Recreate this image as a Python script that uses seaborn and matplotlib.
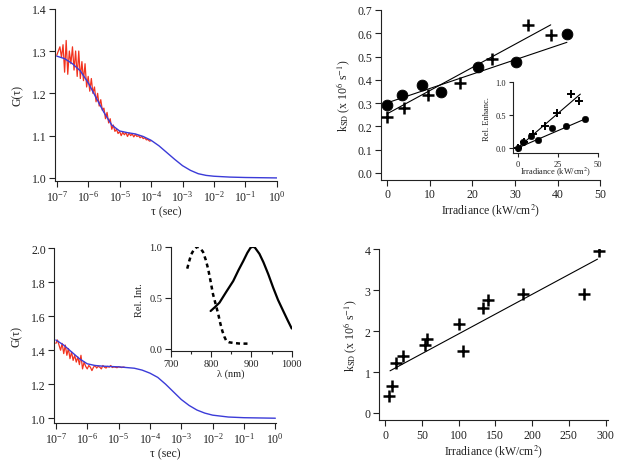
import numpy as np
import pandas as pd
import seaborn as sns
import matplotlib.pyplot as plt
import matplotlib.ticker as mt

# ---- top left: correlation curve (log10 tau, G) ----
fcs1_fit_logtau = [-7.0, -6.75, -6.5, -6.25, -6.0, -5.75, -5.5, -5.25, -5.0, -4.75,
                   -4.5, -4.25, -4.0, -3.75, -3.5, -3.25, -3.0, -2.75, -2.5, -2.25,
                   -2.0, -1.5, -1.0, 0.0]
fcs1_fit_g = [1.288, 1.282, 1.270, 1.253, 1.225, 1.190, 1.155, 1.125, 1.111, 1.107,
              1.104, 1.098, 1.089, 1.076, 1.060, 1.044, 1.029, 1.018, 1.010, 1.006,
              1.004, 1.002, 1.001, 1.000]
fcs1_data_logtau = list(np.round(np.arange(-7.0, -3.95, 0.05), 2))
fcs1_data_g = [1.29, 1.30, 1.31, 1.285, 1.315, 1.25, 1.325, 1.245, 1.30, 1.27,
               1.31, 1.255, 1.30, 1.24, 1.30, 1.235, 1.275, 1.23, 1.27, 1.215,
               1.24, 1.205, 1.235, 1.20, 1.215, 1.18, 1.20, 1.17, 1.185, 1.16,
               1.165, 1.14, 1.155, 1.13, 1.14, 1.115, 1.125, 1.11, 1.115, 1.105,
               1.11, 1.10, 1.108, 1.102, 1.107, 1.098, 1.106, 1.100, 1.104, 1.097,
               1.103, 1.098, 1.100, 1.095, 1.098, 1.093, 1.095, 1.090, 1.091, 1.087,
               1.088]

# ---- bottom left: correlation curve ----
fcs2_fit_logtau = [-7.0, -6.75, -6.5, -6.25, -6.0, -5.75, -5.5, -5.0, -4.5, -4.25,
                   -4.0, -3.75, -3.5, -3.25, -3.0, -2.75, -2.5, -2.25, -2.0, -1.5,
                   -1.0, 0.0]
fcs2_fit_g = [1.46, 1.43, 1.39, 1.35, 1.32, 1.31, 1.306, 1.302, 1.294, 1.283,
              1.265, 1.24, 1.20, 1.155, 1.11, 1.075, 1.048, 1.03, 1.018, 1.007,
              1.003, 1.000]
fcs2_data_logtau = list(np.round(np.arange(-7.0, -4.75, 0.05), 2))
fcs2_data_g = [1.44, 1.46, 1.43, 1.40, 1.44, 1.38, 1.43, 1.37, 1.41, 1.35,
               1.39, 1.34, 1.37, 1.33, 1.36, 1.315, 1.37, 1.29, 1.33, 1.305,
               1.29, 1.31, 1.30, 1.28, 1.30, 1.31, 1.295, 1.305, 1.30, 1.29,
               1.31, 1.30, 1.295, 1.305, 1.30, 1.31, 1.298, 1.302, 1.30, 1.297,
               1.303, 1.30, 1.298, 1.301, 1.299]

# ---- inset: spectra ----
abs_wl = [741, 746, 751, 758, 766, 773, 780, 787, 793, 799, 805, 812, 818, 823,
          828, 833, 838, 845, 855, 872, 896]
abs_int = [0.785, 0.86, 0.925, 0.975, 1.0, 0.985, 0.95, 0.87, 0.78, 0.66, 0.534,
           0.43, 0.339, 0.25, 0.176, 0.12, 0.078, 0.065, 0.059, 0.052, 0.052]
em_wl = [799, 810, 821, 838, 855, 868, 880, 890, 898, 904, 909, 920, 930, 942,
         954, 966, 979, 990, 1000]
em_int = [0.371, 0.41, 0.453, 0.56, 0.664, 0.77, 0.86, 0.94, 0.99, 1.0, 0.99,
          0.93, 0.847, 0.73, 0.6, 0.48, 0.371, 0.28, 0.2]

# ---- top right: k_SD vs irradiance ----
circ_irr = [0.0, 3.5, 8.3, 12.6, 21.4, 30.2, 42.2]
circ_k = [0.293, 0.336, 0.376, 0.347, 0.454, 0.476, 0.597]
cross_irr = [0.0, 4.0, 9.6, 17.1, 24.6, 33.1, 38.4]
cross_k = [0.24, 0.279, 0.333, 0.387, 0.49, 0.637, 0.594]
circ_fit_irr = [0.0, 42.2]
circ_fit_k = [0.301, 0.561]
cross_fit_irr = [0.0, 38.4]
cross_fit_k = [0.254, 0.636]

# inset: relative enhancement
circ_enh = [0.0, 0.09, 0.18, 0.12, 0.30, 0.33, 0.44]
cross_enh = [0.0, 0.09, 0.22, 0.34, 0.53, 0.82, 0.71]
circ_enh_fit_irr = [0.0, 42.7]
circ_enh_fit = [0.0, 0.45]
cross_enh_fit_irr = [0.0, 39.0]
cross_enh_fit = [0.0, 0.82]

# ---- bottom right ----
irr2 = [5.9, 9.1, 15, 24, 55, 57.6, 100.8, 106.7, 133, 139.8, 188, 270, 290.5]
k2 = [0.42, 0.66, 1.21, 1.38, 1.67, 1.80, 2.17, 1.52, 2.56, 2.76, 2.92, 2.90, 3.96]
fit2_irr = [6.8, 289]
fit2_k = [1.03, 3.76]

decades = [1e-7, 1e-6, 1e-5, 1e-4, 1e-3, 1e-2, 1e-1, 1e0]

sns.set_style("ticks")
plt.rcParams['font.family'] = ['Liberation Serif', 'DejaVu Serif']
plt.rcParams['mathtext.fontset'] = 'stix'
TXT = '#222222'
plt.rcParams['text.color'] = TXT
plt.rcParams['axes.labelcolor'] = TXT
plt.rcParams['xtick.color'] = TXT
plt.rcParams['ytick.color'] = TXT
plt.rcParams['axes.edgecolor'] = TXT

RED = '#f2331f'
BLUE = '#3b3bd8'

fig = plt.figure(figsize=(6.2, 4.64), dpi=100)


def igor(ax, fs=8.5):
    for s in ['top', 'right']:
        ax.spines[s].set_visible(False)
    for s in ['left', 'bottom']:
        ax.spines[s].set_linewidth(0.8)
    ax.tick_params(direction='out', length=4, width=0.8, labelsize=fs, pad=2)
    ax.set_facecolor('none')


def fcs_panel(rect, dlog, dg, flog, fg, ylim, yticks):
    ax = fig.add_axes(rect)
    d = pd.DataFrame({'tau': 10.0 ** np.array(dlog), 'g': dg})
    f = pd.DataFrame({'tau': 10.0 ** np.array(flog), 'g': fg})
    sns.lineplot(data=d, x='tau', y='g', ax=ax, color=RED, lw=0.9,
                 estimator=None, sort=False)
    sns.lineplot(data=f, x='tau', y='g', ax=ax, color=BLUE, lw=1.0,
                 estimator=None, sort=False)
    ax.set_xscale('log')
    ax.set_xlim(10 ** -7.05, 10 ** 0.01)
    ax.set_ylim(*ylim)
    ax.set_yticks(yticks)
    ax.yaxis.set_major_formatter(mt.FormatStrFormatter('%.1f'))
    ax.set_xticks(decades)
    ax.xaxis.set_major_formatter(mt.LogFormatterSciNotation())
    ax.xaxis.set_minor_locator(mt.NullLocator())
    ax.set_xlabel('τ (sec)', fontsize=8.5, labelpad=1)
    ax.set_ylabel('G(τ)', fontsize=8.5, labelpad=6)
    igor(ax)
    return ax


# top left
fcs_panel([0.089, 0.608, 0.358, 0.371], fcs1_data_logtau, fcs1_data_g,
          fcs1_fit_logtau, fcs1_fit_g, (0.993, 1.4), [1.0, 1.1, 1.2, 1.3, 1.4])

# bottom left
fcs_panel([0.0876, 0.087, 0.357, 0.376], fcs2_data_logtau, fcs2_data_g,
          fcs2_fit_logtau, fcs2_fit_g, (0.974, 2.0), [1.0, 1.2, 1.4, 1.6, 1.8, 2.0])

# spectra inset
ax = fig.add_axes([0.2753, 0.2414, 0.1952, 0.2248])
sns.lineplot(x=abs_wl, y=abs_int, ax=ax, color='black', lw=1.8,
             linestyle=(0, (1.6, 1.4)), estimator=None, sort=False)
sns.lineplot(x=em_wl, y=em_int, ax=ax, color='black', lw=1.6,
             estimator=None, sort=False)
ax.set_xlim(700, 1000)
ax.set_ylim(-0.02, 1.0)
ax.set_xticks([700, 800, 900, 1000])
ax.xaxis.set_minor_locator(mt.MultipleLocator(50))
ax.set_yticks([0.0, 0.5, 1.0])
ax.yaxis.set_major_formatter(mt.FormatStrFormatter('%.1f'))
ax.set_xlabel('λ (nm)', fontsize=7.5, labelpad=0)
ax.set_ylabel('Rel. Int.', fontsize=7.5, labelpad=4)
igor(ax, fs=7.5)
ax.tick_params(which='minor', direction='out', length=2.5, width=0.8)

# top right
ax = fig.add_axes([0.614, 0.61, 0.354, 0.3664])
sns.lineplot(x=circ_fit_irr, y=circ_fit_k, ax=ax, color='black', lw=0.8)
sns.lineplot(x=cross_fit_irr, y=cross_fit_k, ax=ax, color='black', lw=0.8)
sns.scatterplot(x=circ_irr, y=circ_k, ax=ax, color='black', marker='o', s=60,
                edgecolor='black', zorder=3)
sns.scatterplot(x=cross_irr, y=cross_k, ax=ax, color='black', marker='+', s=75,
                linewidth=1.8, zorder=3)
ax.set_xlim(-1.5, 50)
ax.set_ylim(-0.03, 0.7)
ax.set_xticks([0, 10, 20, 30, 40, 50])
ax.set_yticks(np.arange(0, 0.71, 0.1))
ax.yaxis.set_major_formatter(mt.FormatStrFormatter('%.1f'))
ax.set_xlabel('Irradiance (kW/cm$^2$)', fontsize=8.5, labelpad=1)
ax.set_ylabel('k$_{\\mathrm{SD}}$ (x 10$^{6}$ s$^{-1}$)', fontsize=8.5, labelpad=4)
igor(ax)

# relative enhancement inset
ax = fig.add_axes([0.827, 0.6675, 0.1376, 0.153])
sns.lineplot(x=circ_enh_fit_irr, y=circ_enh_fit, ax=ax, color='black', lw=0.8)
sns.lineplot(x=cross_enh_fit_irr, y=cross_enh_fit, ax=ax, color='black', lw=0.8)
sns.scatterplot(x=circ_irr, y=circ_enh, ax=ax, color='black', marker='o', s=22,
                edgecolor='black', zorder=3)
sns.scatterplot(x=cross_irr, y=cross_enh, ax=ax, color='black', marker='+', s=30,
                linewidth=1.4, zorder=3)
ax.set_xlim(-3, 50)
ax.set_ylim(-0.08, 1.0)
ax.set_xticks([0, 25, 50])
ax.set_yticks([0.0, 0.5, 1.0])
ax.yaxis.set_major_formatter(mt.FormatStrFormatter('%.1f'))
ax.set_xlabel('Irradiance (kW/cm$^2$)', fontsize=6, labelpad=-2)
ax.set_ylabel('Rel. Enhanc.', fontsize=6, labelpad=3)
igor(ax, fs=6)
ax.tick_params(length=3)

# bottom right
ax = fig.add_axes([0.6113, 0.092, 0.369, 0.3685])
sns.lineplot(x=fit2_irr, y=fit2_k, ax=ax, color='black', lw=0.8)
sns.scatterplot(x=irr2, y=k2, ax=ax, color='black', marker='+', s=85,
                linewidth=1.8, zorder=3)
ax.set_xlim(-8.2, 303)
ax.set_ylim(-0.18, 4.0)
ax.set_xticks([0, 50, 100, 150, 200, 250, 300])
ax.set_yticks([0, 1, 2, 3, 4])
ax.set_xlabel('Irradiance (kW/cm$^2$)', fontsize=8.5, labelpad=1)
ax.set_ylabel('k$_{\\mathrm{SD}}$ (x 10$^{6}$ s$^{-1}$)', fontsize=8.5, labelpad=4)
igor(ax)

fig.savefig('out.png', dpi=100, facecolor='white')
